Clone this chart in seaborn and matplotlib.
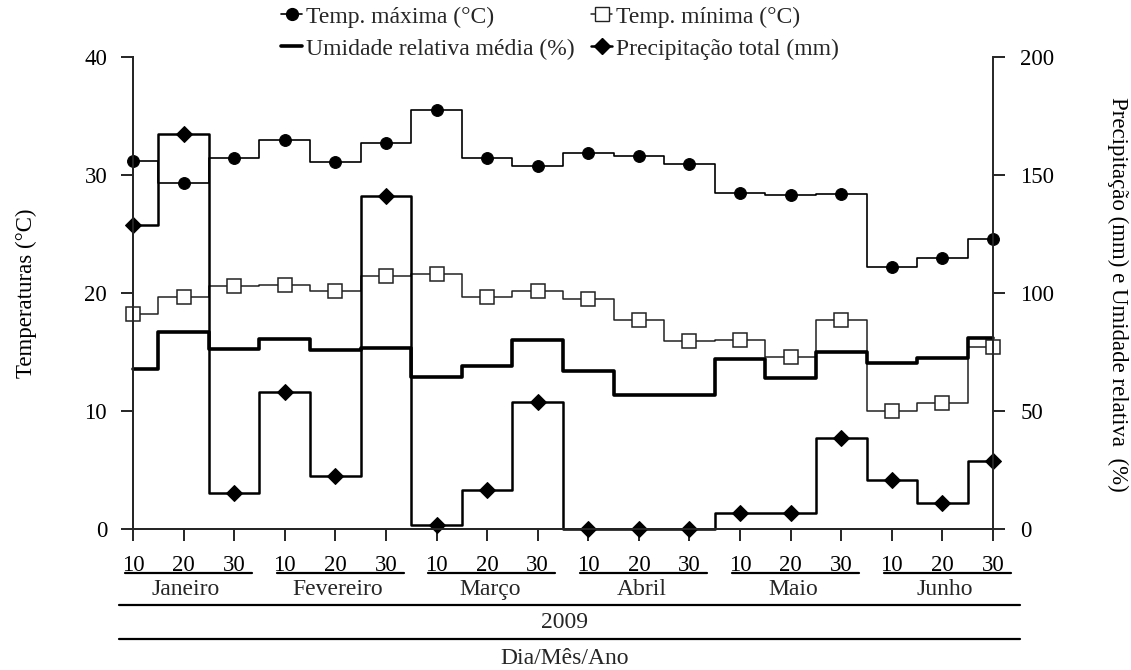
import matplotlib
matplotlib.use("Agg")
import numpy as np
import pandas as pd
import seaborn as sns
import matplotlib.pyplot as plt
import matplotlib.transforms as mtransforms
from matplotlib.lines import Line2D

# ---------------- data ----------------
months = ["Janeiro", "Fevereiro", "Março", "Abril", "Maio", "Junho"]
days = ["10", "20", "30"]
year = "2009"

temp_max = [31.2, 29.3, 31.4, 33.0, 31.1, 32.7, 35.5, 31.4, 30.8,
            31.9, 31.6, 30.9, 28.5, 28.3, 28.4, 22.2, 23.0, 24.6]
temp_min = [18.2, 19.7, 20.6, 20.7, 20.2, 21.4, 21.6, 19.7, 20.2,
            19.5, 17.7, 15.9, 16.0, 14.6, 17.7, 10.0, 10.7, 15.4]
umidade = [67.7, 83.4, 76.4, 80.6, 75.7, 76.5, 64.4, 68.9, 79.9,
           66.9, 56.9, 56.9, 72.0, 63.8, 74.8, 70.5, 72.3, 80.9]
precip = [128.8, 167.4, 15.1, 57.9, 22.5, 140.9, 1.7, 16.4, 53.7,
          0.0, 0.0, 0.0, 6.6, 6.6, 38.5, 20.6, 10.9, 28.9]

labels = {
    "tmax": "Temp. máxima (°C)",
    "tmin": "Temp. mínima (°C)",
    "umid": "Umidade relativa média (%)",
    "prec": "Precipitação total (mm)",
}

pos = np.arange(len(temp_max))
df = pd.DataFrame({"pos": pos, "tmax": temp_max, "tmin": temp_min,
                   "umid": umidade, "prec": precip})

# ---------------- style ----------------
sns.set_theme(style="white")
plt.rcParams["font.family"] = ["Liberation Serif", "DejaVu Serif"]
plt.rcParams["axes.linewidth"] = 1.4

W, H = 1131, 670
fig = plt.figure(figsize=(W / 100, H / 100), dpi=100)
ax = fig.add_axes([133 / W, 1 - 529 / H, (993 - 133) / W, (529 - 57) / H])
ax2 = ax.twinx()

common = dict(drawstyle="steps-mid", clip_on=False, legend=False)

sns.lineplot(data=df, x="pos", y="tmax", ax=ax, color="black", lw=1.2,
             marker="o", markersize=8.5, markeredgecolor="black",
             markerfacecolor="black", **common)
sns.lineplot(data=df, x="pos", y="tmin", ax=ax, color="#222222", lw=1.1,
             marker="s", markersize=10, markeredgecolor="#222222",
             markerfacecolor="white", markeredgewidth=1.1, **common)
sns.lineplot(data=df, x="pos", y="umid", ax=ax2, color="black", lw=2.6,
             **common)
sns.lineplot(data=df, x="pos", y="prec", ax=ax2, color="black", lw=1.8,
             marker="D", markersize=8, markeredgecolor="black",
             markerfacecolor="black", **common)

ax.set_xlim(0, len(pos) - 1)
ax.set_ylim(0, 40)
ax2.set_ylim(0, 200)
ax.set_yticks([0, 10, 20, 30, 40])
ax2.set_yticks([0, 50, 100, 150, 200])
ax.set_xticks(pos)
ax.set_xticklabels(days * len(months))

for a in (ax, ax2):
    a.spines["top"].set_visible(False)
    a.grid(False)
ax.spines["right"].set_visible(False)

ax.tick_params(axis="both", which="both", direction="out", length=8.6,
               width=1.2, labelsize=16.5, color="black", labelcolor="black",
               bottom=True, left=True, pad=10)
ax2.tick_params(axis="y", direction="out", length=8.6, width=1.2,
                labelsize=16.5, right=True, pad=11, colors="black")

ax.set_xlabel("")
ax.set_ylabel("Temperaturas (°C)", fontsize=16.5, color="black")
ax.yaxis.set_label_coords(-0.112, 0.5)
ax2.set_ylabel("Precipitação (mm) e Umidade relativa  (%)", fontsize=16.5,
               color="black", rotation=270, va="center")
ax2.yaxis.set_label_coords(1.145, 0.497)

# ---------------- hierarchical x labels ----------------
blend = mtransforms.blended_transform_factory(ax.transData, fig.transFigure)
fy = lambda ypix: 1 - ypix / H

for m, name in enumerate(months):
    x0 = 3 * m
    fig.add_artist(Line2D([x0 - 0.16, x0 + 2.35], [fy(573), fy(573)],
                          transform=blend, color="black", lw=1.6))
    fig.text(x0 + 1.05, fy(595), name, transform=blend, ha="center",
             va="baseline", fontsize=17)

for ypix in (605, 639):
    fig.add_artist(Line2D([119 / W, 1020 / W], [fy(ypix), fy(ypix)],
                          transform=fig.transFigure, color="black", lw=1.6))

fig.text(565 / W, fy(623), year, ha="center", va="center", fontsize=17)
fig.text(565 / W, fy(659), "Dia/Mês/Ano", ha="center", va="center",
         fontsize=17)

# ---------------- legend ----------------
h_tmax = Line2D([], [], color="black", lw=1.2, marker="o", markersize=8.5)
h_tmin = Line2D([], [], color="#222222", lw=1.1, marker="s", markersize=10,
                markerfacecolor="white", markeredgecolor="#222222")
h_umid = Line2D([], [], color="black", lw=2.6)
h_prec = Line2D([], [], color="black", lw=1.8, marker="D", markersize=8)
fig.legend([h_tmax, h_umid, h_tmin, h_prec],
           [labels["tmax"], labels["umid"], labels["tmin"], labels["prec"]],
           ncol=2, loc="upper left", bbox_to_anchor=(281 / W, 1 - 6 / H),
           frameon=False, fontsize=17, handlelength=0.9, handletextpad=0.15,
           columnspacing=0.7, labelspacing=0.45, borderpad=0,
           borderaxespad=0)

fig.savefig("out.png", dpi=100)
